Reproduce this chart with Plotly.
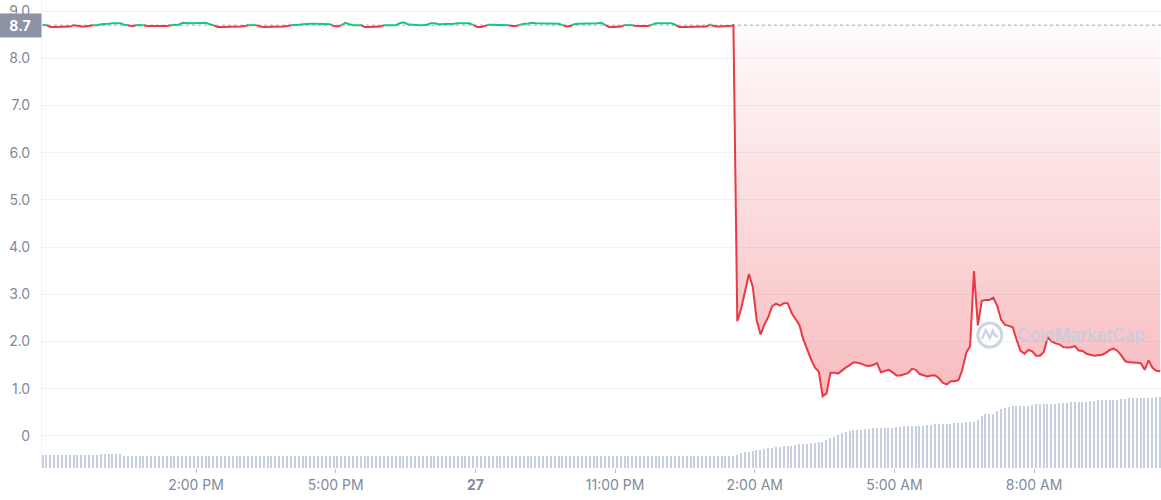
import pandas as pd
import plotly.graph_objects as go

# ---------------- data ----------------
START = "2023-05-26 10:42:30"   # first 5-minute sample
STEP = "5min"
BASELINE = 8.7                  # opening price (reference line)

PRICE = [
    8.71, 8.70, 8.66, 8.66, 8.66, 8.66, 8.66, 8.67, 8.70, 8.68,
    8.67, 8.67, 8.68, 8.70, 8.70, 8.72, 8.72, 8.73, 8.74, 8.74,
    8.74, 8.71, 8.70, 8.68, 8.70, 8.70, 8.70, 8.68, 8.68, 8.68,
    8.68, 8.68, 8.68, 8.70, 8.70, 8.71, 8.75, 8.74, 8.74, 8.74,
    8.74, 8.74, 8.75, 8.72, 8.70, 8.66, 8.66, 8.66, 8.66, 8.67,
    8.67, 8.67, 8.68, 8.70, 8.70, 8.70, 8.67, 8.66, 8.66, 8.66,
    8.67, 8.67, 8.67, 8.68, 8.70, 8.70, 8.71, 8.72, 8.73, 8.73,
    8.73, 8.73, 8.73, 8.73, 8.72, 8.68, 8.67, 8.70, 8.75, 8.72,
    8.70, 8.70, 8.70, 8.66, 8.66, 8.66, 8.66, 8.67, 8.70, 8.70,
    8.70, 8.70, 8.74, 8.76, 8.72, 8.71, 8.71, 8.70, 8.70, 8.71,
    8.74, 8.74, 8.72, 8.72, 8.72, 8.72, 8.73, 8.74, 8.74, 8.74,
    8.74, 8.70, 8.66, 8.66, 8.68, 8.71, 8.71, 8.71, 8.71, 8.71,
    8.70, 8.68, 8.68, 8.71, 8.73, 8.73, 8.75, 8.74, 8.74, 8.74,
    8.74, 8.74, 8.74, 8.73, 8.70, 8.67, 8.68, 8.72, 8.73, 8.73,
    8.73, 8.73, 8.73, 8.74, 8.75, 8.70, 8.66, 8.66, 8.66, 8.67,
    8.70, 8.70, 8.70, 8.68, 8.68, 8.68, 8.68, 8.71, 8.74, 8.74,
    8.74, 8.74, 8.74, 8.71, 8.66, 8.66, 8.66, 8.66, 8.66, 8.66,
    8.66, 8.67, 8.71, 8.68, 8.67, 8.67, 8.67, 8.68, 8.70,
    2.43, 2.70, 3.05, 3.43, 3.15, 2.45, 2.15, 2.36, 2.52, 2.75,
    2.80, 2.76, 2.81, 2.81, 2.60, 2.48, 2.35, 2.05, 1.83, 1.62,
    1.45, 1.36, 0.84, 0.90, 1.34, 1.34, 1.32, 1.39, 1.45, 1.50,
    1.56, 1.55, 1.53, 1.49, 1.48, 1.50, 1.54, 1.35, 1.37, 1.40,
    1.35, 1.28, 1.28, 1.30, 1.33, 1.42, 1.40, 1.31, 1.28, 1.26,
    1.28, 1.28, 1.22, 1.12, 1.09, 1.16, 1.16, 1.18, 1.40, 1.76,
    1.90, 3.49, 2.34, 2.86, 2.88, 2.88, 2.93, 2.75, 2.46, 2.35,
    2.33, 2.30, 2.03, 1.80, 1.74, 1.82, 1.79, 1.70, 1.70, 1.78,
    2.09, 2.00, 1.96, 1.94, 1.88, 1.87, 1.88, 1.90, 1.81, 1.80,
    1.74, 1.72, 1.70, 1.71, 1.72, 1.76, 1.82, 1.85, 1.80, 1.70,
    1.58, 1.56, 1.56, 1.55, 1.54, 1.40, 1.60, 1.44, 1.38, 1.37,
]

# 24h volume (millions, arbitrary scale), one bar per 5-minute sample
VOLUME = (
    [3.3] * 15 + [3.5] * 6 + [3.1] * 40 + [3.0] * 80 + [2.9] * 37 +
    [3.1, 3.3, 3.8, 4.0, 4.1, 4.3, 4.5, 4.5, 4.8, 5.0, 5.0, 5.3, 5.3, 5.5,
     5.5, 5.6, 5.8, 5.9, 6.0, 6.0, 6.3, 6.3, 6.5, 6.6, 7.0, 7.5, 7.8, 8.3,
     8.8, 9.0, 9.3, 9.4, 9.5] +
    [9.6, 9.8, 9.8, 9.9, 9.9, 10.0, 10.0, 10.1, 10.1, 10.3, 10.3, 10.4,
     10.4, 10.5, 10.5, 10.6, 10.6, 10.8, 10.8, 10.9, 10.9, 11.0, 11.1,
     11.1, 11.3, 11.3, 11.3, 11.4, 11.4] +
    [11.6, 12.1, 13.0, 13.4, 13.5, 13.6, 14.3, 14.8, 15.1, 15.3, 15.4] +
    [15.5, 15.5, 15.6, 15.6, 15.8, 15.9, 15.9, 16.0, 16.0, 16.1, 16.1,
     16.3, 16.3, 16.3, 16.4, 16.5, 16.5, 16.6, 16.6, 16.8, 16.8, 16.9,
     16.9, 17.0, 17.0, 17.0, 17.1, 17.3, 17.3, 17.4, 17.4, 17.5, 17.5,
     17.5, 17.6, 17.6, 17.8, 17.8]
)

Y_TICKS = [0, 1, 2, 3, 4, 5, 6, 7, 8, 9]
Y_TICK_LABELS = ["0", "1.0", "2.0", "3.0", "4.0", "5.0", "6.0", "7.0", "8.0", "9.0"]
X_TICKS = ["2023-05-26 14:00", "2023-05-26 17:00", "2023-05-26 20:00",
           "2023-05-26 23:00", "2023-05-27 02:00", "2023-05-27 05:00",
           "2023-05-27 08:00"]
X_TICK_LABELS = ["2:00 PM", "5:00 PM", "<b>27</b>", "11:00 PM",
                 "2:00 AM", "5:00 AM", "8:00 AM"]
X_RANGE = ["2023-05-26 10:41:30", "2023-05-27 10:43:30"]

assert len(PRICE) == len(VOLUME) == 289

# ---------------- styling ----------------
GREEN = "#16c784"
RED = "#ea3943"
GREY = "#808a9d"
GRID = "#eff2f5"
FONT = "Inter"
WM_COLOR = "rgba(196,205,224,0.85)"

times = pd.date_range(START, periods=len(PRICE), freq=STEP)

# split the price line at baseline crossings -> green above, red below
pts = []
for i, (t, v) in enumerate(zip(times, PRICE)):
    if i > 0:
        t0, v0 = times[i - 1], PRICE[i - 1]
        if (v0 - BASELINE) * (v - BASELINE) < 0:
            f = (BASELINE - v0) / (v - v0)
            pts.append((t0 + (t - t0) * f, BASELINE))
    pts.append((t, v))

segs = {"g": ([], []), "r": ([], [])}
prev = None
for a, b in zip(pts[:-1], pts[1:]):
    c = "g" if (a[1] + b[1]) / 2 >= BASELINE else "r"
    xs, ys = segs[c]
    if c == prev:
        xs.append(b[0]); ys.append(b[1])
    else:
        if xs:
            xs.append(None); ys.append(None)
        xs.extend([a[0], b[0]]); ys.extend([a[1], b[1]])
    prev = c

# start of the post-crash area fill
drop = next(i for i in range(1, len(PRICE)) if PRICE[i] < BASELINE - 1)
fx = times[drop - 1:]
fy = PRICE[drop - 1:]

fig = go.Figure()

fig.add_trace(go.Bar(
    x=times, y=VOLUME, yaxis="y2", marker=dict(color="#c8d0e0", line_width=0),
    width=110000, hoverinfo="skip", showlegend=False,
))
fig.add_trace(go.Scatter(
    x=fx, y=[BASELINE] * len(fx), mode="lines", line=dict(width=0),
    hoverinfo="skip", showlegend=False,
))
fig.add_trace(go.Scatter(
    x=fx, y=fy, mode="lines", line=dict(width=0), fill="tonexty",
    fillgradient=dict(type="vertical",
                      colorscale=[[0, "rgba(234,57,67,0.34)"],
                                  [1, "rgba(234,57,67,0.02)"]]),
    hoverinfo="skip", showlegend=False,
))
fig.add_trace(go.Scatter(
    x=segs["r"][0], y=segs["r"][1], mode="lines",
    line=dict(color=RED, width=2), hoverinfo="skip", showlegend=False,
))
fig.add_trace(go.Scatter(
    x=segs["g"][0], y=segs["g"][1], mode="lines",
    line=dict(color=GREEN, width=2), hoverinfo="skip", showlegend=False,
))

# dotted baseline
fig.add_shape(type="line", xref="paper", x0=0, x1=1, yref="y",
              y0=BASELINE, y1=BASELINE, layer="below",
              line=dict(color="#a1a7b3", width=1, dash="dot"))

# baseline badge
fig.add_annotation(x=0, xref="paper", xanchor="right", y=BASELINE, yref="y",
                   yanchor="middle", text="<b>8.7</b>", showarrow=False,
                   bgcolor="#8b93a5", width=38, height=19, borderpad=2,
                   font=dict(family=FONT, size=14, color="white"))

# watermark
WM_X, WM_Y = 0.847, 0.284
fig.add_shape(type="circle", xref="paper", yref="paper",
              xsizemode="pixel", ysizemode="pixel", xanchor=WM_X, yanchor=WM_Y,
              x0=-12, x1=12, y0=-12, y1=12,
              line=dict(color=WM_COLOR, width=3))
fig.add_shape(type="path", xref="paper", yref="paper",
              xsizemode="pixel", ysizemode="pixel", xanchor=WM_X, yanchor=WM_Y,
              path="M -8,-4 L -4,5 L 0,-3 L 3,4 L 5,0 L 8,-2",
              line=dict(color=WM_COLOR, width=2.5))
fig.add_annotation(x=0.8695, xref="paper", xanchor="left", y=WM_Y, yref="paper",
                   yanchor="middle", text="CoinMarketCap", showarrow=False,
                   font=dict(family=FONT, size=17, weight=600, color=WM_COLOR))

fig.update_layout(
    width=1161, height=500,
    margin=dict(l=42, r=0, t=0, b=32),
    paper_bgcolor="white", plot_bgcolor="white",
    showlegend=False, hovermode=False, bargap=0,
    font=dict(family=FONT, size=14, color=GREY),
    xaxis=dict(
        type="date", range=X_RANGE, tickvals=X_TICKS, ticktext=X_TICK_LABELS,
        showgrid=False, zeroline=False, showline=False, automargin=False,
        ticks="outside", ticklen=4, tickcolor="#b8bfcc", tickwidth=1,
        tickfont=dict(family=FONT, size=14, color=GREY),
    ),
    yaxis=dict(
        range=[-0.68, 9.233], tickvals=Y_TICKS, ticktext=Y_TICK_LABELS,
        showgrid=True, gridcolor=GRID, gridwidth=1, zeroline=False,
        showline=True, linecolor=GRID, linewidth=1, automargin=False,
        ticks="", ticklabelstandoff=8,
        tickfont=dict(family=FONT, size=14, color=GREY),
    ),
    yaxis2=dict(overlaying="y", range=[0, 117], visible=False, automargin=False),
)

fig.write_html(
    "out.html",
    config={"displayModeBar": False},
    post_script="document.body.style.margin='0';document.body.style.overflow='hidden';",
)
